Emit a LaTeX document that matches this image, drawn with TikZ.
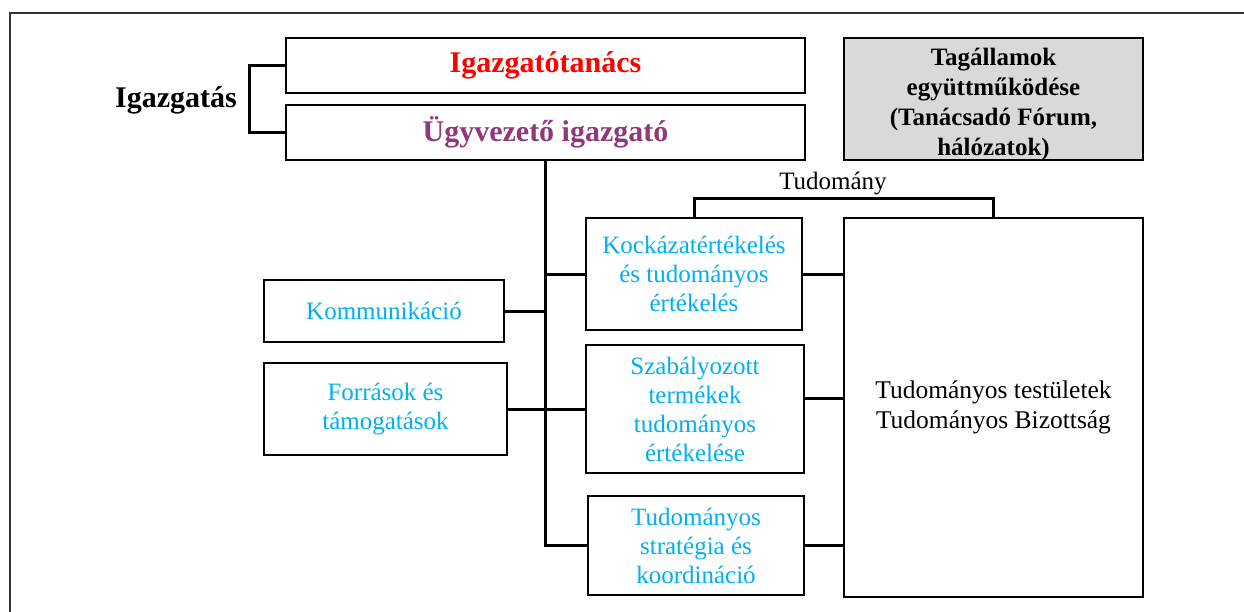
\documentclass[tikz,border=0pt]{standalone}
\usepackage{fontspec}
\setmainfont{Liberation Serif}
\definecolor{igred}{HTML}{FF0000}
\definecolor{igpurple}{HTML}{8E3A7A}
\definecolor{igblue}{HTML}{00B0F0}
\definecolor{iggray}{HTML}{D9D9D9}
\definecolor{frame}{HTML}{333333}
\begin{document}
\begin{tikzpicture}[x=1pt,y=-1pt,
  box/.style={draw=black,line width=2pt,inner sep=0pt,align=center,fill=white},
  unit/.style={box,text=igblue,font=\fontsize{25}{29}\selectfont},
  head/.style={box,font=\bfseries\fontsize{30}{34}\selectfont},
  conn/.style={draw=black,line width=3pt},
  plain/.style={font=\fontsize{25}{30}\selectfont,align=center,inner sep=0pt}]
\useasboundingbox (0,0) rectangle (1244,612);
\fill[white] (0,0) rectangle (1244,612);
% outer frame (top and left)
\draw[frame,line width=2.5pt] (10,612) -- (10,13) -- (1244,13);

\node[font=\bfseries\fontsize{30}{34}\selectfont,anchor=base,inner sep=0pt] (gov) at (176,108) {Igazgatás};
\node[head,text=igred,minimum width=519pt,minimum height=55pt] (igt) at (545.5,65.5) {Igazgatótanács};
\node[head,text=igpurple,minimum width=519pt,minimum height=55pt] (ugy) at (545.5,132.5) {Ügyvezető igazgató};
\node[box,fill=iggray,minimum width=299pt,minimum height=122pt] (tag) at (993.5,99) {};
\node[font=\bfseries\fontsize{25}{30}\selectfont,align=center,inner sep=0pt] (tagtxt) at (993.5,104) {Tagállamok\\együttműködése\\(Tanácsadó Fórum,\\hálózatok)};

\node[unit,minimum width=216pt,minimum height=112pt] (kock) at (694,274) {Kockázatértékelés\\és tudományos\\értékelés};
\node[unit,minimum width=218pt,minimum height=128pt] (szab) at (695,409) {Szabályozott\\termékek\\tudományos\\értékelése};
\node[unit,minimum width=216pt,minimum height=99pt] (strat) at (696,545.5) {Tudományos\\stratégia és\\koordináció};
\node[unit,minimum width=240pt,minimum height=62pt] (komm) at (384,311) {Kommunikáció};
\node[unit,minimum width=243pt,minimum height=92pt] (forr) at (385.5,409) {Források és\\támogatások};
\node[box,minimum width=299pt,minimum height=379pt,font=\fontsize{25.5}{30}\selectfont] (big) at (993.5,407.5) {Tudományos testületek\\Tudományos Bizottság};

\node[plain,anchor=base] (tud) at (833,190) {Tudomány};

% connectors
\draw[conn] (igt.west) -- ++(-36,0) coordinate (gb) |- (ugy.west);
\draw[conn] (ugy.south) |- (strat.west);
\draw[conn] (kock.west) -- (kock.west -| ugy.south);
\draw[conn] (komm.east) -- (komm.east -| ugy.south);
\draw[conn] (forr.east) -- (szab.west);
\draw[conn] (kock.east) -- (kock.east -| big.west);
\draw[conn] ([yshift=11pt]szab.east) -- ([yshift=11pt]szab.east -| big.west);
\draw[conn] (strat.east) -- (strat.east -| big.west);
\draw[conn] (kock.north) -- ++(0,-18) coordinate (tb) -| (big.north);
\end{tikzpicture}
\end{document}
